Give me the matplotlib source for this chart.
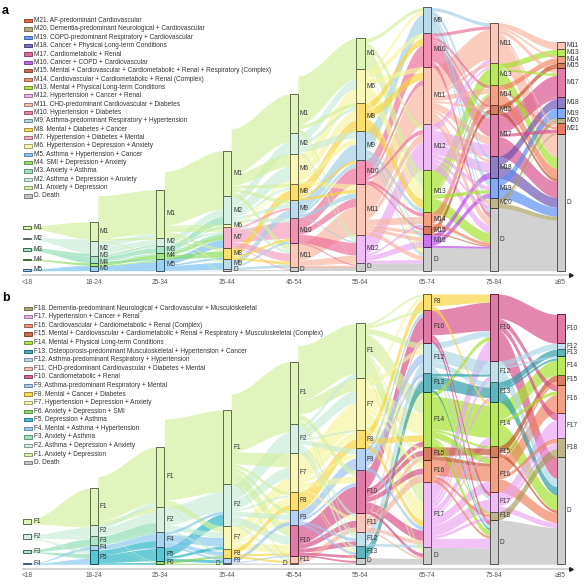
import numpy as np
import matplotlib
matplotlib.use("Agg")
import matplotlib.pyplot as plt
from matplotlib.patches import Rectangle
from matplotlib.colors import to_rgb

plt.rcParams['font.family'] = ['Liberation Sans', 'DejaVu Sans']

AGES = ["<18", "18-24", "25-34", "35-44", "45-54", "55-64", "65-74", "75-84", "≥85"]

# ---------------- panel a : male clusters ----------------
A_LEGEND = [
    ("M21", "AF-predominant Cardiovascular"),
    ("M20", "Dementia-predominant Neurological + Cardiovascular"),
    ("M19", "COPD-predominant Respiratory + Cardiovascular"),
    ("M18", "Cancer + Physical Long-term Conditions"),
    ("M17", "Cardiometabolic + Renal"),
    ("M16", "Cancer + COPD + Cardiovascular"),
    ("M15", "Mental + Cardiovascular + Cardiometabolic + Renal + Respiratory (Complex)"),
    ("M14", "Cardiovascular + Cardiometabolic + Renal (Complex)"),
    ("M13", "Mental + Physical Long-term Conditions"),
    ("M12", "Hypertension + Cancer + Renal"),
    ("M11", "CHD-predominant Cardiovascular + Diabetes"),
    ("M10", "Hypertension + Diabetes"),
    ("M9", "Asthma-predominant Respiratory + Hypertension"),
    ("M8", "Mental + Diabetes + Cancer"),
    ("M7", "Hypertension + Diabetes + Mental"),
    ("M6", "Hypertension + Depression + Anxiety"),
    ("M5", "Asthma + Hypertension + Cancer"),
    ("M4", "SMI + Depression + Anxiety"),
    ("M3", "Anxiety + Asthma"),
    ("M2", "Asthma + Depression + Anxiety"),
    ("M1", "Anxiety + Depression"),
    ("D", "Death"),
]
A_COLORS = {
    "M1": "#d4f0a0", "M2": "#c8ecd8", "M3": "#90dcb4", "M4": "#86dc5c", "M5": "#78bff0",
    "M6": "#f6f4a0", "M7": "#f49cbc", "M8": "#f8d43c", "M9": "#a4cfe4", "M10": "#ec6e98",
    "M11": "#f8b4a0", "M12": "#eaa6f2", "M13": "#a2e02a", "M14": "#f0805c", "M15": "#c4532c",
    "M16": "#b84ae8", "M17": "#d8508c", "M18": "#6a52b4", "M19": "#5a8cf4", "M20": "#a89c60",
    "M21": "#e04e2c", "D": "#bdbdbd",
}
A_NODES = [
    ["M1", "M2", "M3", "M4", "M5"],
    ["M1", "M2", "M3", "M4", "M5"],
    ["M1", "M2", "M3", "M4", "M5"],
    ["M1", "M2", "M6", "M7", "M8", "M9", "D"],
    ["M1", "M2", "M6", "M8", "M9", "M10", "M11", "D"],
    ["M1", "M6", "M8", "M9", "M10", "M11", "M12", "D"],
    ["M9", "M10", "M11", "M12", "M13", "M14", "M15", "M16", "D"],
    ["M11", "M13", "M14", "M15", "M17", "M18", "M19", "M20", "D"],
    ["M11", "M13", "M14", "M15", "M17", "M18", "M19", "M20", "M21", "D"],
]
A_SIZES = [
    [3.5, 1.8, 2.8, 1.2, 1.8],
    [19.3, 15, 6.7, 3.3, 4.7],
    [48, 8, 7, 6, 12],
    [45.3, 28.3, 3, 20.4, 11.6, 10, 1.4],
    [39, 21, 29.7, 16, 18, 25.7, 24, 3.3],
    [30.6, 34, 27.7, 29.3, 24, 50.7, 28.3, 7.7],
    [25.6, 33.7, 57.3, 46, 42.4, 14, 7.6, 13.4, 23.3],
    [40.7, 21.6, 20, 9, 42, 22.4, 19.6, 10, 62.7],
    [7.7, 6.3, 7.7, 5, 28.3, 11.7, 9.6, 5, 11, 136.7],
]
# (source, target, size); "N" = newly entering, drawn above the column
A_FLOWS = [
    [("M1", "M1", 17), ("M2", "M1", 2), ("M2", "M2", 12), ("M3", "M2", 3), ("M3", "M3", 6),
     ("M4", "M4", 3), ("M5", "M5", 5), ("M5", "M4", 1)],
    [("N", "M1", 26), ("M1", "M1", 16), ("M2", "M1", 4), ("M1", "M2", 2), ("M2", "M2", 5),
     ("M3", "M2", 1), ("M2", "M3", 2), ("M3", "M3", 4), ("M3", "M4", 1), ("M4", "M4", 4),
     ("M1", "M4", 1), ("M4", "M5", 1), ("M5", "M5", 9), ("M3", "M5", 2)],
    [("N", "M1", 18), ("M1", "M1", 24), ("M1", "M2", 10), ("M2", "M2", 6), ("M3", "M2", 6),
     ("M1", "M6", 2), ("M3", "M6", 1), ("M5", "M7", 8), ("M4", "M7", 4), ("M1", "M7", 4),
     ("M2", "M7", 2), ("M3", "M7", 2), ("M4", "M8", 6), ("M1", "M8", 3), ("M5", "M8", 2),
     ("M5", "M9", 7), ("M2", "M9", 1), ("M1", "M9", 2), ("M1", "D", 1), ("M5", "D", 0.5)],
    [("N", "M1", 22), ("M1", "M1", 14), ("M1", "M2", 8), ("M2", "M2", 11), ("M1", "M6", 10),
     ("M2", "M6", 12), ("M6", "M6", 2), ("M8", "M8", 8), ("M6", "M8", 1), ("M1", "M8", 3),
     ("M2", "M8", 2), ("M9", "M9", 6), ("M2", "M9", 3), ("M1", "M9", 3), ("M7", "M9", 2),
     ("M7", "M10", 13), ("M8", "M10", 2), ("M2", "M10", 3), ("M9", "M10", 2), ("M7", "M11", 5),
     ("M9", "M11", 2), ("M8", "M11", 2), ("M1", "M11", 4), ("M2", "M11", 2), ("M2", "D", 1),
     ("M7", "D", 1), ("D", "D", 1)],
    [("N", "M1", 18), ("M1", "M1", 14), ("M1", "M6", 8), ("M2", "M6", 8), ("M6", "M6", 12),
     ("M6", "M8", 8), ("M8", "M8", 9), ("M1", "M8", 3), ("M2", "M8", 3), ("M9", "M9", 11),
     ("M2", "M9", 5), ("M6", "M9", 4), ("M10", "M10", 11), ("M8", "M10", 2), ("M9", "M10", 3),
     ("M11", "M11", 16), ("M10", "M11", 5), ("M6", "M11", 3), ("M9", "M11", 3), ("M8", "M11", 2),
     ("M10", "M12", 8), ("M11", "M12", 5), ("M1", "M12", 2), ("M2", "M12", 2), ("M9", "M12", 1),
     ("D", "D", 3), ("M11", "D", 2), ("M1", "D", 1), ("M10", "D", 1)],
    [("M9", "M9", 16), ("M1", "M9", 3), ("M6", "M9", 3), ("M10", "M10", 16), ("M8", "M10", 5),
     ("M6", "M10", 4), ("M11", "M11", 30), ("M8", "M11", 6), ("M10", "M11", 4), ("M6", "M11", 4),
     ("M12", "M12", 20), ("M11", "M12", 6), ("M10", "M12", 3), ("M1", "M12", 4),
     ("M1", "M13", 14), ("M6", "M13", 12), ("M8", "M13", 8), ("M9", "M13", 4),
     ("M11", "M14", 6), ("M10", "M14", 3), ("M12", "M14", 2), ("M11", "M15", 3),
     ("M10", "M15", 2), ("M9", "M15", 1), ("M12", "M16", 5), ("M11", "M16", 3), ("M9", "M16", 2),
     ("D", "D", 7), ("M11", "D", 4), ("M12", "D", 3), ("M1", "D", 2), ("M6", "D", 2),
     ("M9", "D", 2), ("M8", "D", 1)],
    [("M11", "M11", 28), ("M9", "M11", 3), ("M10", "M11", 3), ("M12", "M11", 4),
     ("M13", "M13", 15), ("M11", "M13", 3), ("M12", "M13", 2), ("M14", "M14", 9),
     ("M11", "M14", 5), ("M10", "M14", 3), ("M13", "M14", 2), ("M15", "M15", 5),
     ("M11", "M15", 2), ("M10", "M15", 2), ("M10", "M17", 18), ("M12", "M17", 12),
     ("M11", "M17", 8), ("M9", "M17", 4), ("M12", "M18", 10), ("M16", "M18", 6),
     ("M9", "M18", 3), ("M11", "M18", 3), ("M9", "M19", 7), ("M16", "M19", 5), ("M12", "M19", 4),
     ("M13", "M19", 3), ("M11", "M20", 4), ("M12", "M20", 3), ("M9", "M20", 2), ("D", "D", 23),
     ("M13", "D", 10), ("M11", "D", 8), ("M12", "D", 8), ("M10", "D", 5), ("M9", "D", 4),
     ("M14", "D", 3), ("M16", "D", 2), ("M15", "D", 1)],
    [("M11", "M11", 5), ("M11", "M14", 2), ("M11", "M17", 4), ("M11", "M21", 3), ("M11", "D", 28),
     ("M13", "M13", 5), ("M13", "M17", 2), ("M13", "D", 14), ("M14", "M14", 5), ("M14", "M21", 2),
     ("M14", "D", 12), ("M15", "M15", 4), ("M15", "D", 4), ("M17", "M17", 18), ("M17", "M18", 2),
     ("M17", "M21", 3), ("M17", "D", 20), ("M18", "M18", 8), ("M18", "D", 12), ("M19", "M19", 7),
     ("M19", "D", 11), ("M20", "M20", 4), ("M20", "M21", 1), ("M20", "D", 5), ("D", "D", 62)],
]

# ---------------- panel b : female clusters ----------------
B_LEGEND = [
    ("F18", "Dementia-predominant Neurological + Cardiovascular + Musculoskeletal"),
    ("F17", "Hypertension + Cancer + Renal"),
    ("F16", "Cardiovascular + Cardiometabolic + Renal (Complex)"),
    ("F15", "Mental + Cardiovascular + Cardiometabolic + Renal + Respiratory + Musculoskeletal (Complex)"),
    ("F14", "Mental + Physical Long-term Conditions"),
    ("F13", "Osteoporosis-predominant Musculoskeletal + Hypertension + Cancer"),
    ("F12", "Asthma-predominant Respiratory + Hypertension"),
    ("F11", "CHD-predominant Cardiovascular + Diabetes + Mental"),
    ("F10", "Cardiometabolic + Renal"),
    ("F9", "Asthma-predominant Respiratory + Mental"),
    ("F8", "Mental + Cancer + Diabetes"),
    ("F7", "Hypertension + Depression + Anxiety"),
    ("F6", "Anxiety + Depression + SMI"),
    ("F5", "Depression + Asthma"),
    ("F4", "Mental + Asthma + Hypertension"),
    ("F3", "Anxiety + Asthma"),
    ("F2", "Asthma + Depression + Anxiety"),
    ("F1", "Anxiety + Depression"),
    ("D", "Death"),
]
B_COLORS = {
    "F1": "#d4f0a0", "F2": "#c8ecd8", "F3": "#90dcb4", "F4": "#88c8ee", "F5": "#22b4c4",
    "F6": "#80d050", "F7": "#f6f4a0", "F8": "#f8d43c", "F9": "#9ec2f0", "F10": "#d64e88",
    "F11": "#f6b4a4", "F12": "#acd6e6", "F13": "#2a9ca4", "F14": "#a2e02a", "F15": "#c4532c",
    "F16": "#f0805c", "F17": "#eaa6f2", "F18": "#a89c60", "D": "#bdbdbd",
}
B_NODES = [
    ["F1", "F2", "F3", "F4"],
    ["F1", "F2", "F3", "F4", "F5"],
    ["F1", "F2", "F4", "F5", "F6"],
    ["F1", "F2", "F7", "F8", "F9", "D"],
    ["F1", "F2", "F7", "F8", "F9", "F10", "F11", "D"],
    ["F1", "F7", "F8", "F9", "F10", "F11", "F12", "F13", "D"],
    ["F8", "F10", "F12", "F13", "F14", "F15", "F16", "F17", "D"],
    ["F10", "F12", "F13", "F14", "F15", "F16", "F17", "F18", "D"],
    ["F10", "F12", "F13", "F14", "F15", "F16", "F17", "F18", "D"],
]
B_SIZES = [
    [5.3, 5, 3, 1.3],
    [36.7, 11, 9, 5, 14.3],
    [59.7, 25, 15.6, 13.4, 3.6],
    [74.3, 41.4, 23.6, 8.4, 5, 1.6],
    [62.6, 29, 38.7, 18, 15.3, 30.7, 6.7, 1.6],
    [55, 51.7, 18.3, 21.7, 43.3, 18.4, 14.3, 11.7, 6.6],
    [16, 32.7, 30.6, 18.4, 55, 13.3, 21.7, 65.6, 17],
    [66.7, 21, 20, 44.3, 10.7, 35, 20, 8.3, 44.3],
    [29, 6, 6.7, 19, 10, 27.7, 25.6, 19, 107],
]
B_FLOWS = [
    [("F1", "F1", 30), ("F1", "F2", 2), ("F2", "F2", 8), ("F2", "F3", 3), ("F3", "F3", 6),
     ("F3", "F4", 2), ("F4", "F4", 3), ("F2", "F5", 3), ("F3", "F5", 4), ("F4", "F5", 5)],
    [("N", "F1", 12), ("F1", "F1", 40), ("F2", "F1", 4), ("F1", "F2", 5), ("F2", "F2", 9),
     ("F3", "F2", 8), ("F3", "F4", 2), ("F4", "F4", 6), ("F5", "F4", 6), ("F5", "F5", 10),
     ("F4", "F5", 1), ("F2", "F6", 1), ("F5", "F6", 2), ("F3", "F6", 1)],
    [("N", "F1", 28), ("F1", "F1", 45), ("F1", "F2", 8), ("F2", "F2", 20), ("F5", "F2", 12),
     ("F4", "F2", 3), ("F1", "F7", 6), ("F2", "F7", 5), ("F4", "F7", 8), ("F5", "F7", 3),
     ("F4", "F8", 4), ("F2", "F8", 2), ("F6", "F8", 2), ("F5", "F9", 3), ("F4", "F9", 2),
     ("F1", "D", 1), ("F6", "D", 1)],
    [("N", "F1", 16), ("F1", "F1", 35), ("F1", "F2", 6), ("F2", "F2", 16), ("F1", "F7", 12),
     ("F2", "F7", 10), ("F7", "F7", 12), ("F7", "F8", 8), ("F8", "F8", 5), ("F1", "F8", 3),
     ("F2", "F8", 2), ("F9", "F9", 4), ("F2", "F9", 5), ("F1", "F9", 4), ("F7", "F9", 2),
     ("F1", "F10", 10), ("F2", "F10", 8), ("F7", "F10", 8), ("F8", "F10", 2), ("F9", "F10", 1),
     ("F8", "F11", 2), ("F1", "F11", 2), ("F2", "F11", 2), ("D", "D", 1), ("F1", "D", 1)],
    [("N", "F1", 16), ("F1", "F1", 35), ("F2", "F1", 5), ("F1", "F7", 12), ("F2", "F7", 12),
     ("F7", "F7", 26), ("F7", "F8", 8), ("F8", "F8", 10), ("F2", "F8", 2), ("F9", "F9", 11),
     ("F2", "F9", 5), ("F7", "F9", 4), ("F10", "F10", 24), ("F7", "F10", 6), ("F1", "F10", 5),
     ("F9", "F10", 3), ("F11", "F11", 4), ("F10", "F11", 6), ("F2", "F11", 3), ("F7", "F11", 3),
     ("F10", "F12", 5), ("F2", "F12", 4), ("F9", "F12", 3), ("F1", "F12", 2), ("F2", "F13", 4),
     ("F9", "F13", 3), ("F10", "F13", 3), ("F7", "F13", 2), ("D", "D", 2), ("F10", "D", 2),
     ("F1", "D", 2), ("F7", "D", 1)],
    [("F8", "F8", 10), ("F7", "F8", 4), ("F1", "F8", 2), ("F10", "F10", 22), ("F9", "F10", 4),
     ("F11", "F10", 4), ("F1", "F10", 3), ("F12", "F12", 10), ("F9", "F12", 10), ("F1", "F12", 6),
     ("F7", "F12", 5), ("F13", "F13", 10), ("F12", "F13", 3), ("F9", "F13", 3), ("F1", "F14", 20),
     ("F7", "F14", 20), ("F8", "F14", 6), ("F10", "F14", 5), ("F10", "F15", 5), ("F11", "F15", 4),
     ("F7", "F15", 3), ("F11", "F16", 8), ("F10", "F16", 6), ("F7", "F16", 5), ("F1", "F16", 3),
     ("F1", "F17", 20), ("F7", "F17", 18), ("F10", "F17", 10), ("F8", "F17", 6), ("F9", "F17", 4),
     ("F11", "F17", 4), ("F12", "F17", 3), ("D", "D", 6), ("F10", "D", 4), ("F7", "D", 3),
     ("F1", "D", 3), ("F11", "D", 2)],
    [("F10", "F10", 28), ("F17", "F10", 20), ("F8", "F10", 8), ("F12", "F10", 6), ("F14", "F10", 4),
     ("F12", "F12", 12), ("F17", "F12", 5), ("F13", "F12", 2), ("F13", "F13", 10), ("F12", "F13", 5),
     ("F17", "F13", 4), ("F14", "F14", 30), ("F17", "F14", 8), ("F8", "F14", 3), ("F15", "F15", 6),
     ("F14", "F15", 2), ("F17", "F15", 2), ("F16", "F16", 14), ("F17", "F16", 10), ("F14", "F16", 6),
     ("F15", "F16", 3), ("F17", "F17", 12), ("F10", "F17", 4), ("F12", "F17", 3), ("F16", "F18", 3),
     ("F17", "F18", 3), ("F14", "F18", 2), ("D", "D", 17), ("F17", "D", 10), ("F14", "D", 6),
     ("F10", "D", 5), ("F12", "D", 3), ("F16", "D", 3), ("F13", "D", 2)],
    [("F10", "F10", 20), ("F10", "F16", 5), ("F10", "D", 25), ("F10", "F17", 5), ("F12", "F12", 4),
     ("F12", "D", 10), ("F13", "F13", 5), ("F13", "D", 10), ("F14", "F14", 14), ("F14", "D", 18),
     ("F14", "F16", 3), ("F15", "F15", 6), ("F15", "D", 3), ("F16", "F16", 15), ("F16", "D", 12),
     ("F16", "F15", 3), ("F17", "F17", 12), ("F17", "D", 6), ("F18", "F18", 6), ("F17", "F18", 4),
     ("F16", "F18", 3), ("D", "D", 44), ("F13", "F14", 2), ("F12", "F14", 2)],
]

# ---------------- layout (pixel based) ----------------
W, H = 586, 588
COL_PX, COL0_PX = 66.7, 27.0      # column spacing / first column centre in px
HW = 0.06                         # half bar width in column units
XLIM = (-COL0_PX / COL_PX, (W - COL0_PX) / COL_PX)
FS = 4.7
LAB_GAP = 6.3                     # min vertical distance between node labels (px)


def darker(c, f=0.55):
    r, g, b = to_rgb(c)
    return (r * f, g * f, b * f)


def light(c, a=0.8):
    r, g, b = to_rgb(c)
    return (1 - a + a * r, 1 - a + a * g, 1 - a + a * b)


def node_pos(nodes, sizes, gap0):
    out = []
    for i, (names, hs) in enumerate(zip(nodes, sizes)):
        g = gap0 if i == 0 else 0.0
        d, y = {}, 0.0
        for n, h in zip(names[::-1], hs[::-1]):
            d[n] = (y, y + h)
            y += h + g
        out.append(d)
    return out


def draw_panel(ax, nodes, sizes, flows, colors, gap0, left_lab):
    pos = node_pos(nodes, sizes, gap0)
    t = np.linspace(0, 1, 50)
    s = t * t * (3 - 2 * t)
    for i, fl in enumerate(flows):
        sp, tp = pos[i], pos[i + 1]
        so = {n: k for k, n in enumerate(nodes[i])}; so["N"] = -1
        to = {n: k for k, n in enumerate(nodes[i + 1])}
        left, right = {}, {}
        for src in nodes[i]:
            fs = sorted([k for k, f in enumerate(fl) if f[0] == src], key=lambda k: to[fl[k][1]])
            if not fs:
                continue
            sc = (sp[src][1] - sp[src][0]) / sum(fl[k][2] for k in fs)
            y = sp[src][1]
            for k in fs:
                w = fl[k][2] * sc
                left[k] = (y - w, y); y -= w
        y = max(v[1] for v in sp.values())
        for k in sorted([k for k, f in enumerate(fl) if f[0] == "N"], key=lambda k: -to[fl[k][1]]):
            left[k] = (y, y + fl[k][2]); y += fl[k][2]
        for tgt in nodes[i + 1]:
            fs = sorted([k for k, f in enumerate(fl) if f[1] == tgt], key=lambda k: so[fl[k][0]])
            if not fs:
                continue
            sc = (tp[tgt][1] - tp[tgt][0]) / sum(fl[k][2] for k in fs)
            y = tp[tgt][1]
            for k in fs:
                w = fl[k][2] * sc
                right[k] = (y - w, y); y -= w
        x = i + HW + (1 - 2 * HW) * t
        for k in sorted(range(len(fl)), key=lambda k: -fl[k][2]):
            src, tgt, v = fl[k]
            c = colors[tgt] if src == "N" else colors[src]
            lo = left[k][0] + (right[k][0] - left[k][0]) * s
            hi = left[k][1] + (right[k][1] - left[k][1]) * s
            ax.fill_between(x, lo, hi, color=c, alpha=0.68, lw=0, zorder=1)
    for i, d in enumerate(pos):
        # label positions, pushed apart bottom-up when nodes are tiny
        ylab, prev = {}, -1e9
        for n, (y0, y1) in sorted(d.items(), key=lambda kv: kv[1][0]):
            if (i, n) in left_lab:
                ylab[n] = (y0 + y1) / 2
                continue
            yl = max((y0 + y1) / 2, prev + LAB_GAP)
            ylab[n] = yl; prev = yl
        for n, (y0, y1) in d.items():
            c = colors[n]
            ax.add_patch(Rectangle((i - HW, y0), 2 * HW, y1 - y0, facecolor=light(c, 0.75),
                                   edgecolor=darker(c, 0.45), lw=0.7, zorder=3))
            if (i, n) in left_lab:
                ax.text(i - HW - 0.04, ylab[n], n, ha="right", va="center", fontsize=FS,
                        color="#333333", zorder=4)
            else:
                ax.text(i + HW + 0.03, ylab[n], n, ha="left", va="center", fontsize=FS,
                        color="#333333", zorder=4)
    # age axis
    ax.plot([-0.075, 8.14], [-4.3, -4.3], color="#d0d0d0", lw=1.3, zorder=2, solid_capstyle="butt")
    ax.plot([8.16], [-4.3], marker=">", ms=2.6, color="#222222", zorder=3)
    for i, lab in enumerate(AGES):
        ax.text(i, -11.5, lab, ha="center", va="center", fontsize=FS, color="#555555")


def draw_legend(ax, entries, colors, base, py_last, step, letter, py_letter):
    n = len(entries)
    for j, (code, name) in enumerate(entries):
        py = py_last - (n - 1 - j) * step
        y = base - py
        x0 = (24 - COL0_PX) / COL_PX
        ax.add_patch(Rectangle((x0, y - 1.6), 8 / COL_PX, 3.2, facecolor=light(colors[code], 0.85),
                               edgecolor=darker(colors[code], 0.6), lw=0.6, zorder=5))
        lab = f"{code}. {name}"
        ax.text((33.5 - COL0_PX) / COL_PX, y, lab, ha="left", va="center", fontsize=FS,
                color="#333333", zorder=5)
    ax.text((2 - COL0_PX) / COL_PX, base - py_letter, letter, ha="left", va="center",
            fontsize=9, fontweight="bold", zorder=5)


fig = plt.figure(figsize=(W / 100, H / 100), dpi=100)
axA = fig.add_axes([0, 1 - 293 / H, 1, 293 / H])
axB = fig.add_axes([0, 0, 1, 1 - 293 / H])
for ax in (axA, axB):
    ax.set_xlim(*XLIM)
    ax.axis("off")
A_BASE, B_BASE = 270.7, 564.3
axA.set_ylim(A_BASE - 293, A_BASE)
axB.set_ylim(B_BASE - H, B_BASE - 293)

draw_panel(axA, A_NODES, A_SIZES, A_FLOWS, A_COLORS, 8.5, set())
draw_panel(axB, B_NODES, B_SIZES, B_FLOWS, B_COLORS, 10.3, {(3, "D"), (4, "D")})
draw_legend(axA, A_LEGEND, A_COLORS, A_BASE, 196.0, 8.35, "a", 10.5)
draw_legend(axB, B_LEGEND, B_COLORS, B_BASE, 462.7, 8.58, "b", 298.0)

fig.savefig("out.png", dpi=100)
